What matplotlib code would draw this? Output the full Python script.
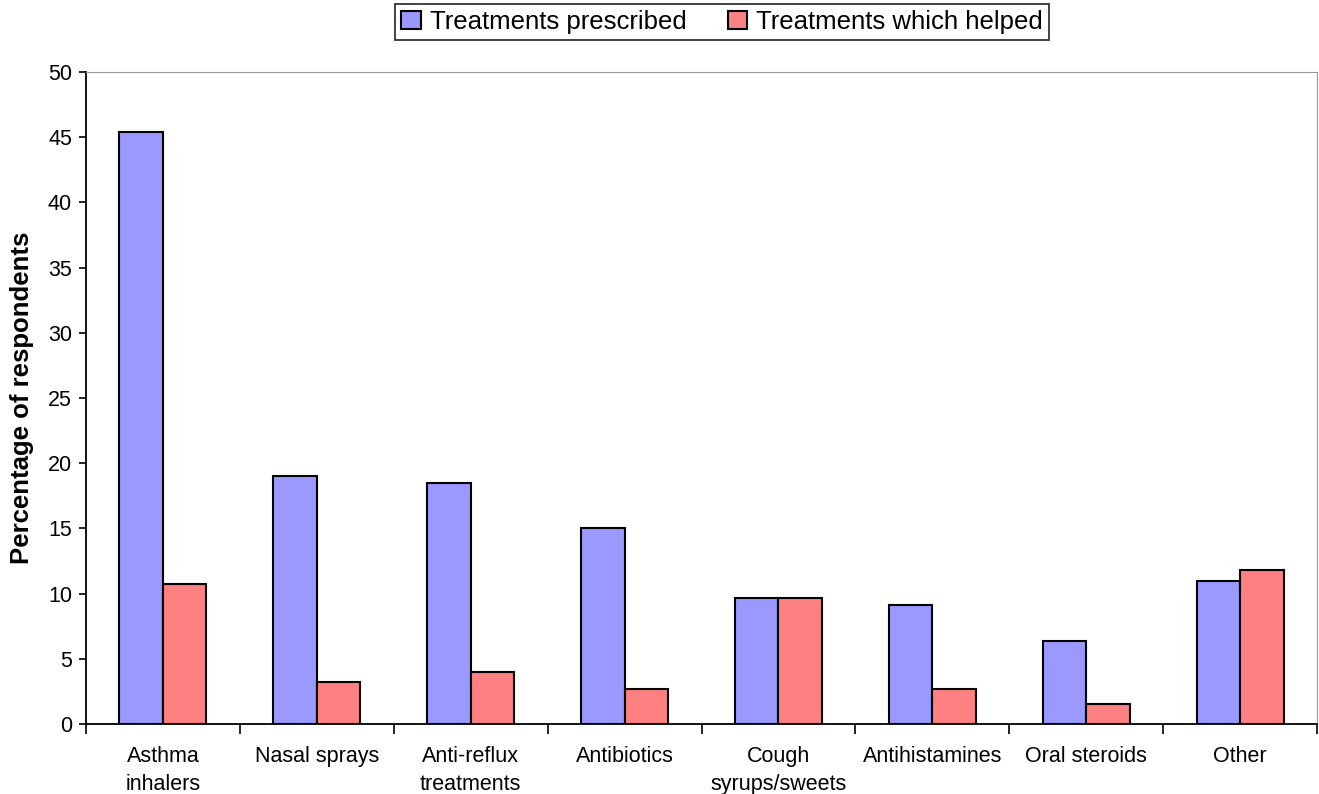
import numpy as np
import matplotlib.pyplot as plt

categories = ['Asthma\ninhalers', 'Nasal sprays', 'Anti-reflux\ntreatments', 'Antibiotics',
              'Cough\nsyrups/sweets', 'Antihistamines', 'Oral steroids', 'Other']
prescribed = [45.4, 19.0, 18.5, 15.0, 9.7, 9.1, 6.4, 11.0]
helped = [10.7, 3.2, 4.0, 2.7, 9.7, 2.7, 1.5, 11.8]

plt.rcParams['font.family'] = ['Liberation Sans', 'DejaVu Sans']

fig = plt.figure(figsize=(13.19, 7.94), dpi=100)
ax = fig.add_axes([86 / 1319, 1 - 724 / 794, 1231 / 1319, 652 / 794])

x = np.arange(len(categories))
w = 0.283
ax.bar(x - w / 2, prescribed, w, color='#9999ff', edgecolor='black', linewidth=1.5,
       label='Treatments prescribed')
ax.bar(x + w / 2, helped, w, color='#ff8080', edgecolor='black', linewidth=1.5,
       label='Treatments which helped')

ax.set_xlim(-0.5, len(categories) - 0.5)
ax.set_ylim(0, 50)
ax.set_yticks(np.arange(0, 51, 5))

# category boundaries get the tick marks, names sit in between
ax.set_xticks(np.arange(-0.5, len(categories)), [''] * (len(categories) + 1))
ax.set_xticks(x, categories, minor=True)
ax.tick_params(axis='x', which='major', length=7, width=1.2, direction='out')
ax.tick_params(axis='x', which='minor', length=0, pad=16, labelsize=15.5)
ax.tick_params(axis='y', length=5, width=1.2, pad=5, labelsize=15.5)

for lbl in ax.get_xticklabels(minor=True):
    lbl.set_linespacing(1.4)

ax.spines['top'].set_color('#999999')
ax.spines['right'].set_color('#999999')
ax.spines['left'].set_linewidth(1.3)
ax.spines['bottom'].set_linewidth(1.3)

ax.set_ylabel('Percentage of respondents', fontsize=18.5, fontweight='bold')
ax.yaxis.set_label_coords(-52 / 1231, 0.5)

leg = fig.legend(loc='center', bbox_to_anchor=(722 / 1319, 1 - 22 / 794), ncol=2,
                 fontsize=18.5, frameon=True, fancybox=False, edgecolor='black',
                 handlelength=0.75, handleheight=0.75, handletextpad=0.35,
                 columnspacing=1.6, borderpad=0.25)
leg.get_frame().set_linewidth(1.3)

fig.savefig('out.png', dpi=100)
